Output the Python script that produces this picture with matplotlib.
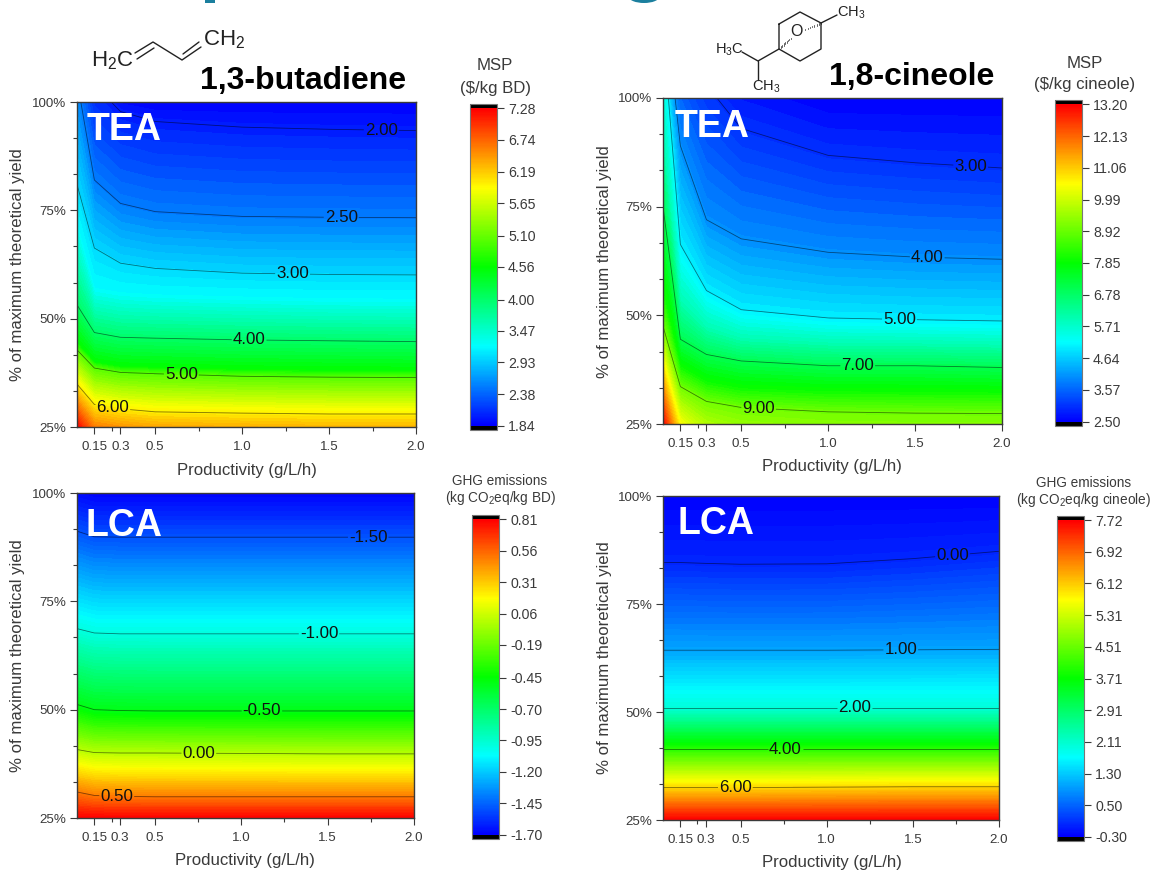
import numpy as np
import matplotlib
matplotlib.use('Agg')
import matplotlib.pyplot as plt
from matplotlib.cm import ScalarMappable
from matplotlib.colors import LinearSegmentedColormap, Normalize
from matplotlib.patches import Ellipse, Rectangle

plt.rcParams['font.family'] = ['Liberation Sans', 'DejaVu Sans']
plt.rcParams['mathtext.default'] = 'regular'

W, H = 1153, 871
GREY = '#3a3a3a'

# productivity grid, same for all four maps
productivity = [0.05, 0.15, 0.3, 0.5, 1.0, 1.5, 2.0]

# each row: the yield (%) at which a map reaches the level, per productivity
# (values over 100 or under 25 fall outside the axes)
bd_tea_levels = [1.84, 2.0, 2.5, 3.0, 3.2, 4.0, 4.56, 5.0, 6.0, 7.28]
bd_tea_yield = [
    [135, 110, 101, 100, 100, 100, 100],
    [125, 104, 97.8, 95.5, 94.2, 93.7, 93.4],
    [105, 82, 76.6, 74.7, 73.6, 73.4, 73.3],
    [81, 66.3, 62.8, 61.6, 60.5, 60.2, 60.1],
    [72, 57, 56, 55.5, 55, 54.6, 54.5],
    [53.2, 46.8, 45.7, 45.5, 45.1, 44.9, 44.7],
    [44.5, 40, 39, 38.8, 38.3, 38.1, 38],
    [42.8, 38.6, 37.6, 37.3, 36.7, 36.5, 36.4],
    [34.9, 30.2, 29.2, 28.5, 28.2, 28.0, 28.0],
    [25, 19, 18, 17, 16, 15, 15],
]
bd_tea_lines = [2.0, 2.5, 3.0, 4.0, 5.0, 6.0]
bd_tea_label_x = [1.80, 1.57, 1.29, 1.04, 0.65, 0.256]
bd_tea_ticks = ['7.28', '6.74', '6.19', '5.65', '5.10', '4.56', '4.00', '3.47', '2.93', '2.38', '1.84']

cin_tea_levels = [2.5, 3.0, 4.0, 5.0, 6.0, 7.0, 8.0, 9.0, 11.0, 13.2]
cin_tea_yield = [
    [170, 140, 125, 115, 90, 75, 55, 47.5, 37, 25],
    [135, 115, 89, 66.3, 53, 44.5, 38, 33.6, 22, 9.5],
    [112, 103, 72, 55.7, 47, 41, 34.5, 30.2, 15, -1],
    [107, 93, 67.6, 51.3, 44.5, 39.5, 33, 28.8, 10, -11],
    [100, 86.8, 64.5, 49.4, 43.5, 38.4, 32.3, 27.8, 5.6, -19],
    [100, 85.1, 63.4, 49, 43.3, 38.4, 32.2, 27.5, 5, -28],
    [100, 83.9, 62.9, 48.7, 43, 38, 32, 27.4, 5, -28],
]
cin_tea_yield = np.array(cin_tea_yield).T.tolist()
cin_tea_lines = [3.0, 4.0, 5.0, 7.0, 9.0]
cin_tea_label_x = [1.82, 1.57, 1.41, 1.17, 0.60]
cin_tea_ticks = ['13.20', '12.13', '11.06', '9.99', '8.92', '7.85', '6.78', '5.71', '4.64', '3.57', '2.50']

bd_lca_levels = [-1.70, -1.5, -1.0, -0.5, 0.0, 0.5, 0.81]
bd_lca_yield = [
    [101, 100, 100, 100, 100, 100, 100],
    [91.2, 89.9, 89.8, 89.8, 89.8, 89.8, 89.8],
    [68.7, 67.7, 67.5, 67.5, 67.5, 67.5, 67.5],
    [51.2, 50.0, 49.8, 49.7, 49.7, 49.7, 49.7],
    [40.8, 40.1, 40.0, 40.0, 39.9, 39.8, 39.8],
    [31.0, 30.2, 30.0, 29.9, 29.9, 29.9, 29.9],
    [25, 25, 25, 25, 25, 25, 25],
]
bd_lca_lines = [-1.5, -1.0, -0.5, 0.0, 0.5]
bd_lca_label_x = [1.735, 1.45, 1.12, 0.755, 0.28]
bd_lca_ticks = ['0.81', '0.56', '0.31', '0.06', '-0.19', '-0.45', '-0.70', '-0.95', '-1.20', '-1.45', '-1.70']

cin_lca_levels = [-0.30, 0.0, 1.0, 2.0, 4.0, 6.0, 7.72]
cin_lca_yield = [
    [100, 100, 100, 100, 100, 100, 100],
    [84.6, 84.6, 84.4, 84.2, 84.3, 85.5, 87.2],
    [64.3, 64.3, 64.3, 64.3, 64.3, 64.4, 64.5],
    [51, 51, 51, 51, 51, 51, 51],
    [41.4, 41.4, 41.4, 41.4, 41.4, 41.4, 41.4],
    [32.5, 32.5, 32.5, 32.5, 32.6, 32.7, 32.7],
    [25, 25, 25, 25, 25, 25, 25],
]
cin_lca_lines = [0.0, 1.0, 2.0, 4.0, 6.0]
cin_lca_label_x = [1.73, 1.43, 1.16, 0.76, 0.47]
cin_lca_ticks = ['7.72', '6.92', '6.12', '5.31', '4.51', '3.71', '2.91', '2.11', '1.30', '0.50', '-0.30']

x_ticks = [0.15, 0.3, 0.5, 1.0, 1.5, 2.0]
x_labels = ['0.15', '0.3', '0.5', '1.0', '1.5', '2.0']
x_minor = [0.25, 0.75, 1.25, 1.75]
y_ticks = [25, 50, 75, 100]
y_minor = [33.33, 41.67, 58.33, 66.67, 83.33, 91.67]

rainbow = LinearSegmentedColormap.from_list(
    'rainbow5', ['#0000ff', '#00ffff', '#00ff00', '#ffff00', '#ff0000'], N=256
).with_extremes(under='black', over='black')

fig = plt.figure(figsize=(W / 100, H / 100), dpi=100)


def px_rect(left, top, right, bottom):
    return [left / W, 1 - bottom / H, (right - left) / W, (bottom - top) / H]


def draw_map(box, bar_box, levels, yields, lines, label_x, ticks, n_fill):
    ax = fig.add_axes(px_rect(*box))
    X = np.tile(productivity, (len(levels), 1))
    Y = np.array(yields, dtype=float)
    Z = np.tile(np.array(levels)[:, None], (1, len(productivity)))
    norm = Normalize(levels[0], levels[-1])
    ax.contourf(X, Y, Z, levels=np.linspace(levels[0], levels[-1], n_fill), cmap=rainbow, norm=norm)

    # contour lines sit a hair off the grid rows, so they don't run along them
    cs = ax.contour(X, Y, Z + 1e-6, levels=lines, colors='black', linewidths=0.6,
                    alpha=0.5, linestyles='solid')
    spots = []
    for level, lx in zip(lines, label_x):
        row = levels.index(level)
        spots.append((lx, np.interp(lx, productivity, Y[row])))
    labels = ax.clabel(cs, fmt='%.2f', manual=spots, inline=True, inline_spacing=1, fontsize=12.2)
    for t in labels:
        t.set_rotation(0)
        t.set_color('#111111')

    ax.set_xlim(0.05, 2.0)
    ax.set_ylim(25, 100)
    ax.set_xticks(x_ticks, x_labels)
    ax.set_xticks(x_minor, minor=True)
    ax.set_yticks(y_ticks, [f'{v}%' for v in y_ticks])
    ax.set_yticks(y_minor, minor=True)
    ax.tick_params(which='major', length=5, width=0.8, color=GREY, labelcolor=GREY, labelsize=9.6, pad=3)
    ax.tick_params(axis='x', which='major', pad=5)
    ax.tick_params(which='minor', length=3, width=0.8, color=GREY)
    for s in ax.spines.values():
        s.set_color(GREY)
        s.set_linewidth(1.0)

    cax = fig.add_axes(px_rect(*bar_box))
    cbar = fig.colorbar(ScalarMappable(norm, rainbow), cax=cax, extend='both',
                        extendrect=True, extendfrac=0.014)
    cbar.set_ticks([float(t) for t in ticks], labels=ticks)
    cbar.minorticks_off()
    cbar.ax.tick_params(length=5, width=0.8, color=GREY, labelcolor=GREY, labelsize=10.2, pad=3)
    cbar.outline.set_edgecolor('#777777')
    cbar.outline.set_linewidth(0.8)


draw_map((77, 102, 416, 427), (470, 104, 497, 430), bd_tea_levels, bd_tea_yield,
         bd_tea_lines, bd_tea_label_x, bd_tea_ticks, 81)
draw_map((663, 98, 1002, 424), (1055, 100, 1082, 426), cin_tea_levels, cin_tea_yield,
         cin_tea_lines, cin_tea_label_x, cin_tea_ticks, 81)
draw_map((77, 493, 414, 818), (472, 515, 499, 839), bd_lca_levels, bd_lca_yield,
         bd_lca_lines, bd_lca_label_x, bd_lca_ticks, 121)
draw_map((663, 496, 999, 820), (1057, 516, 1084, 841), cin_lca_levels, cin_lca_yield,
         cin_lca_lines, cin_lca_label_x, cin_lca_ticks, 121)

# overlay in pixel coordinates for titles and the molecule sketches
ov = fig.add_axes([0, 0, 1, 1], zorder=10)
ov.set_xlim(0, W)
ov.set_ylim(H, 0)
ov.axis('off')


def label(x, y, s, size=12.1, color=GREY, **kw):
    kw.setdefault('ha', 'center')
    ov.text(x, y, s, fontsize=size, color=color, va='center', **kw)


for x, y in [(18, 265), (604, 262), (18, 656), (604, 658)]:
    label(x, y, '% of maximum theoretical yield', rotation=90)
for x, y in [(247, 470), (832, 466), (245, 860), (832, 862)]:
    label(x, y, 'Productivity (g/L/h)')
for x, y, s in [(87, 130, 'TEA'), (675, 127, 'TEA'), (86, 526, 'LCA'), (677, 524, 'LCA')]:
    label(x, y, s, size=27, color='white', fontweight='bold', ha='left')

label(303, 81, '1,3-butadiene', size=23, color='black', fontweight='bold')
label(912, 77, '1,8-cineole', size=23, color='black', fontweight='bold')

label(495, 66, 'MSP')
label(495, 88, '($/kg BD)')
label(1085, 64, 'MSP')
label(1085, 85, '($/kg cineole)')
label(500, 481, 'GHG emissions', size=9.8)
label(500, 498, '(kg CO$_2$eq/kg BD)', size=9.8)
label(1084, 483, 'GHG emissions', size=9.8)
label(1084, 500, '(kg CO$_2$eq/kg cineole)', size=9.8)


def bond(*pts, lw=1.0):
    xs, ys = zip(*pts)
    ov.plot(xs, ys, color='#222222', lw=lw, solid_capstyle='round')


# 1,3-butadiene
label(112, 61, 'H$_2$C', size=16, color='#222222')
label(224, 40, 'CH$_2$', size=16, color='#222222')
bond((135, 53), (153, 42), (182, 60), (201, 47))
bond((137, 59), (154, 48))
bond((183, 54), (199, 42))

# 1,8-cineole
bond((779, 24), (800, 12), (821, 23), (821, 49), (800, 61), (779, 49), (779, 24))
bond((821, 23), (837, 15))
bond((779, 49), (758, 61), (742, 52))
bond((758, 61), (758, 80))
label(796, 32, 'O', size=11.5, color='#222222')
for f in np.linspace(0, 1, 9):
    ov.plot([803 + 18 * f] * 2, [30 - 7 * f - 0.3 - f, 30 - 7 * f + 0.3 + f], color='#222222', lw=0.5)
    ov.plot([781 + 11 * f] * 2, [47 - 10 * f - 1.3 + f, 47 - 10 * f + 1.3 - f], color='#222222', lw=0.5)
label(851, 13, 'CH$_3$', size=10.5, color='#222222')
label(729, 50, 'H$_3$C', size=10.5, color='#222222')
label(766, 87, 'CH$_3$', size=10.5, color='#222222')

# bits of the cut-off slide title along the top edge
ov.add_patch(Rectangle((205, 0), 10, 3, color='#1b7f9e', lw=0))
ov.add_patch(Ellipse((644, -3), 30, 12, color='#1b7f9e', lw=0))

fig.savefig('out.png', dpi=100)
